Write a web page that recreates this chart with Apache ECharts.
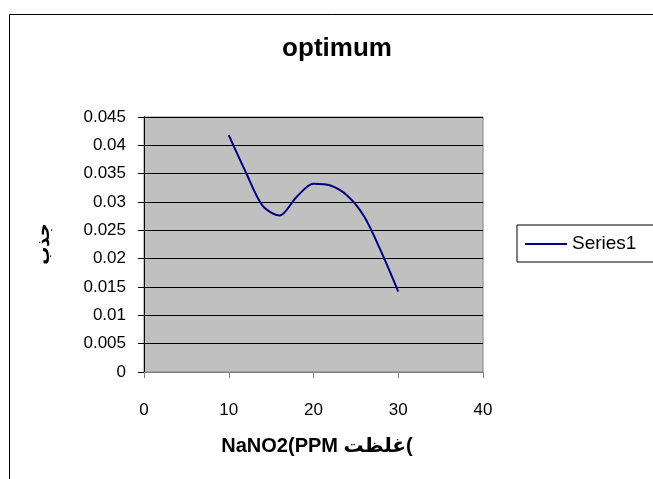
<!DOCTYPE html>
<html>
<head>
<meta charset="utf-8">
<script src="https://cdn.jsdelivr.net/npm/echarts@6/dist/echarts.min.js"></script>
<style>
  html, body { margin: 0; padding: 0; background: #fff; }
  #chart { width: 653px; height: 479px; }
</style>
</head>
<body>
<div id="chart"></div>
<script>
// data
var xValues = [10, 12, 14, 16, 18, 20, 22, 24, 26, 28, 30];
var yValues = [0.0418, 0.0353, 0.0293, 0.0276, 0.0309, 0.0332, 0.0329, 0.0311, 0.0274, 0.0212, 0.0142];
var seriesName = 'Series1';
var chartTitle = 'optimum';
var xNameParts = ['NaNO2(PPM ', 'غلظت', '('];
var yName = 'جذب';

var FONT = 'Liberation Sans, Arial, DejaVu Sans, sans-serif';

var chart = echarts.init(document.getElementById('chart'), null, { renderer: 'canvas' });

var points = xValues.map(function (x, i) { return [x, yValues[i]]; });

// each piece drawn on its own so the bracket is not mirrored
var nameStyle = { fontFamily: FONT, fontSize: 20, fontWeight: 'bold', color: '#000' };

var option = {
	backgroundColor: '#fff',
	animation: false,
	legend: {
		left: 517,
		top: 225,
		padding: [9, 18, 8, 8],
		borderColor: '#000',
		borderWidth: 1,
		icon: 'rect',
		itemWidth: 42,
		itemHeight: 2,
		itemGap: 6,
		textStyle: { fontFamily: FONT, fontSize: 19, color: '#000', lineHeight: 20 },
		data: [seriesName]
	},
	grid: {
		left: 144,
		right: 170,
		top: 117,
		bottom: 107,
		show: true,
		backgroundColor: '#c0c0c0',
		borderColor: '#808080',
		borderWidth: 1
	},
	xAxis: {
		type: 'value',
		min: 0,
		max: 40,
		interval: 10,
		axisLine: { show: true, lineStyle: { color: '#808080', width: 1 } },
		axisTick: { show: true, inside: false, length: 6, lineStyle: { color: '#808080' } },
		splitLine: { show: false },
		axisLabel: { fontFamily: FONT, fontSize: 17, color: '#000', margin: 30 }
	},
	yAxis: {
		type: 'value',
		min: 0,
		max: 0.045,
		interval: 0.005,
		axisLine: { show: true, lineStyle: { color: '#000', width: 1 } },
		axisTick: { show: true, inside: false, length: 6, lineStyle: { color: '#000' } },
		splitLine: { show: true, lineStyle: { color: '#000', width: 1 } },
		axisLabel: { fontFamily: FONT, fontSize: 17, color: '#000', margin: 18 }
	},
	series: [{
		name: seriesName,
		type: 'line',
		data: points,
		smooth: 0.3,
		symbol: 'none',
		lineStyle: { color: '#000080', width: 2 },
		itemStyle: { color: '#000080' }
	}],
	graphic: [
		{
			type: 'rect',
			shape: { x: 9.5, y: 14.5, width: 700, height: 500 },
			style: { fill: 'none', stroke: '#000', lineWidth: 1 },
			z: -1
		},
		{
			type: 'text',
			x: 337,
			y: 49,
			style: {
				text: chartTitle,
				fontFamily: FONT,
				fontSize: 26,
				fontWeight: 'bold',
				fill: '#000',
				align: 'center',
				verticalAlign: 'middle'
			}
		},
		{
			type: 'text',
			x: 317,
			y: 446,
			style: {
				text: '{a|' + xNameParts[0] + '}{b|' + xNameParts[1] + '}{c|' + xNameParts[2] + '}',
				rich: { a: nameStyle, b: nameStyle, c: nameStyle },
				align: 'center',
				verticalAlign: 'middle'
			}
		},
		{
			type: 'text',
			x: 44,
			y: 244,
			rotation: Math.PI / 2,
			style: {
				text: yName,
				fontFamily: FONT,
				fontSize: 18,
				fontWeight: 'bold',
				fill: '#000',
				align: 'center',
				verticalAlign: 'middle'
			}
		}
	]
};

chart.setOption(option);
</script>
</body>
</html>
